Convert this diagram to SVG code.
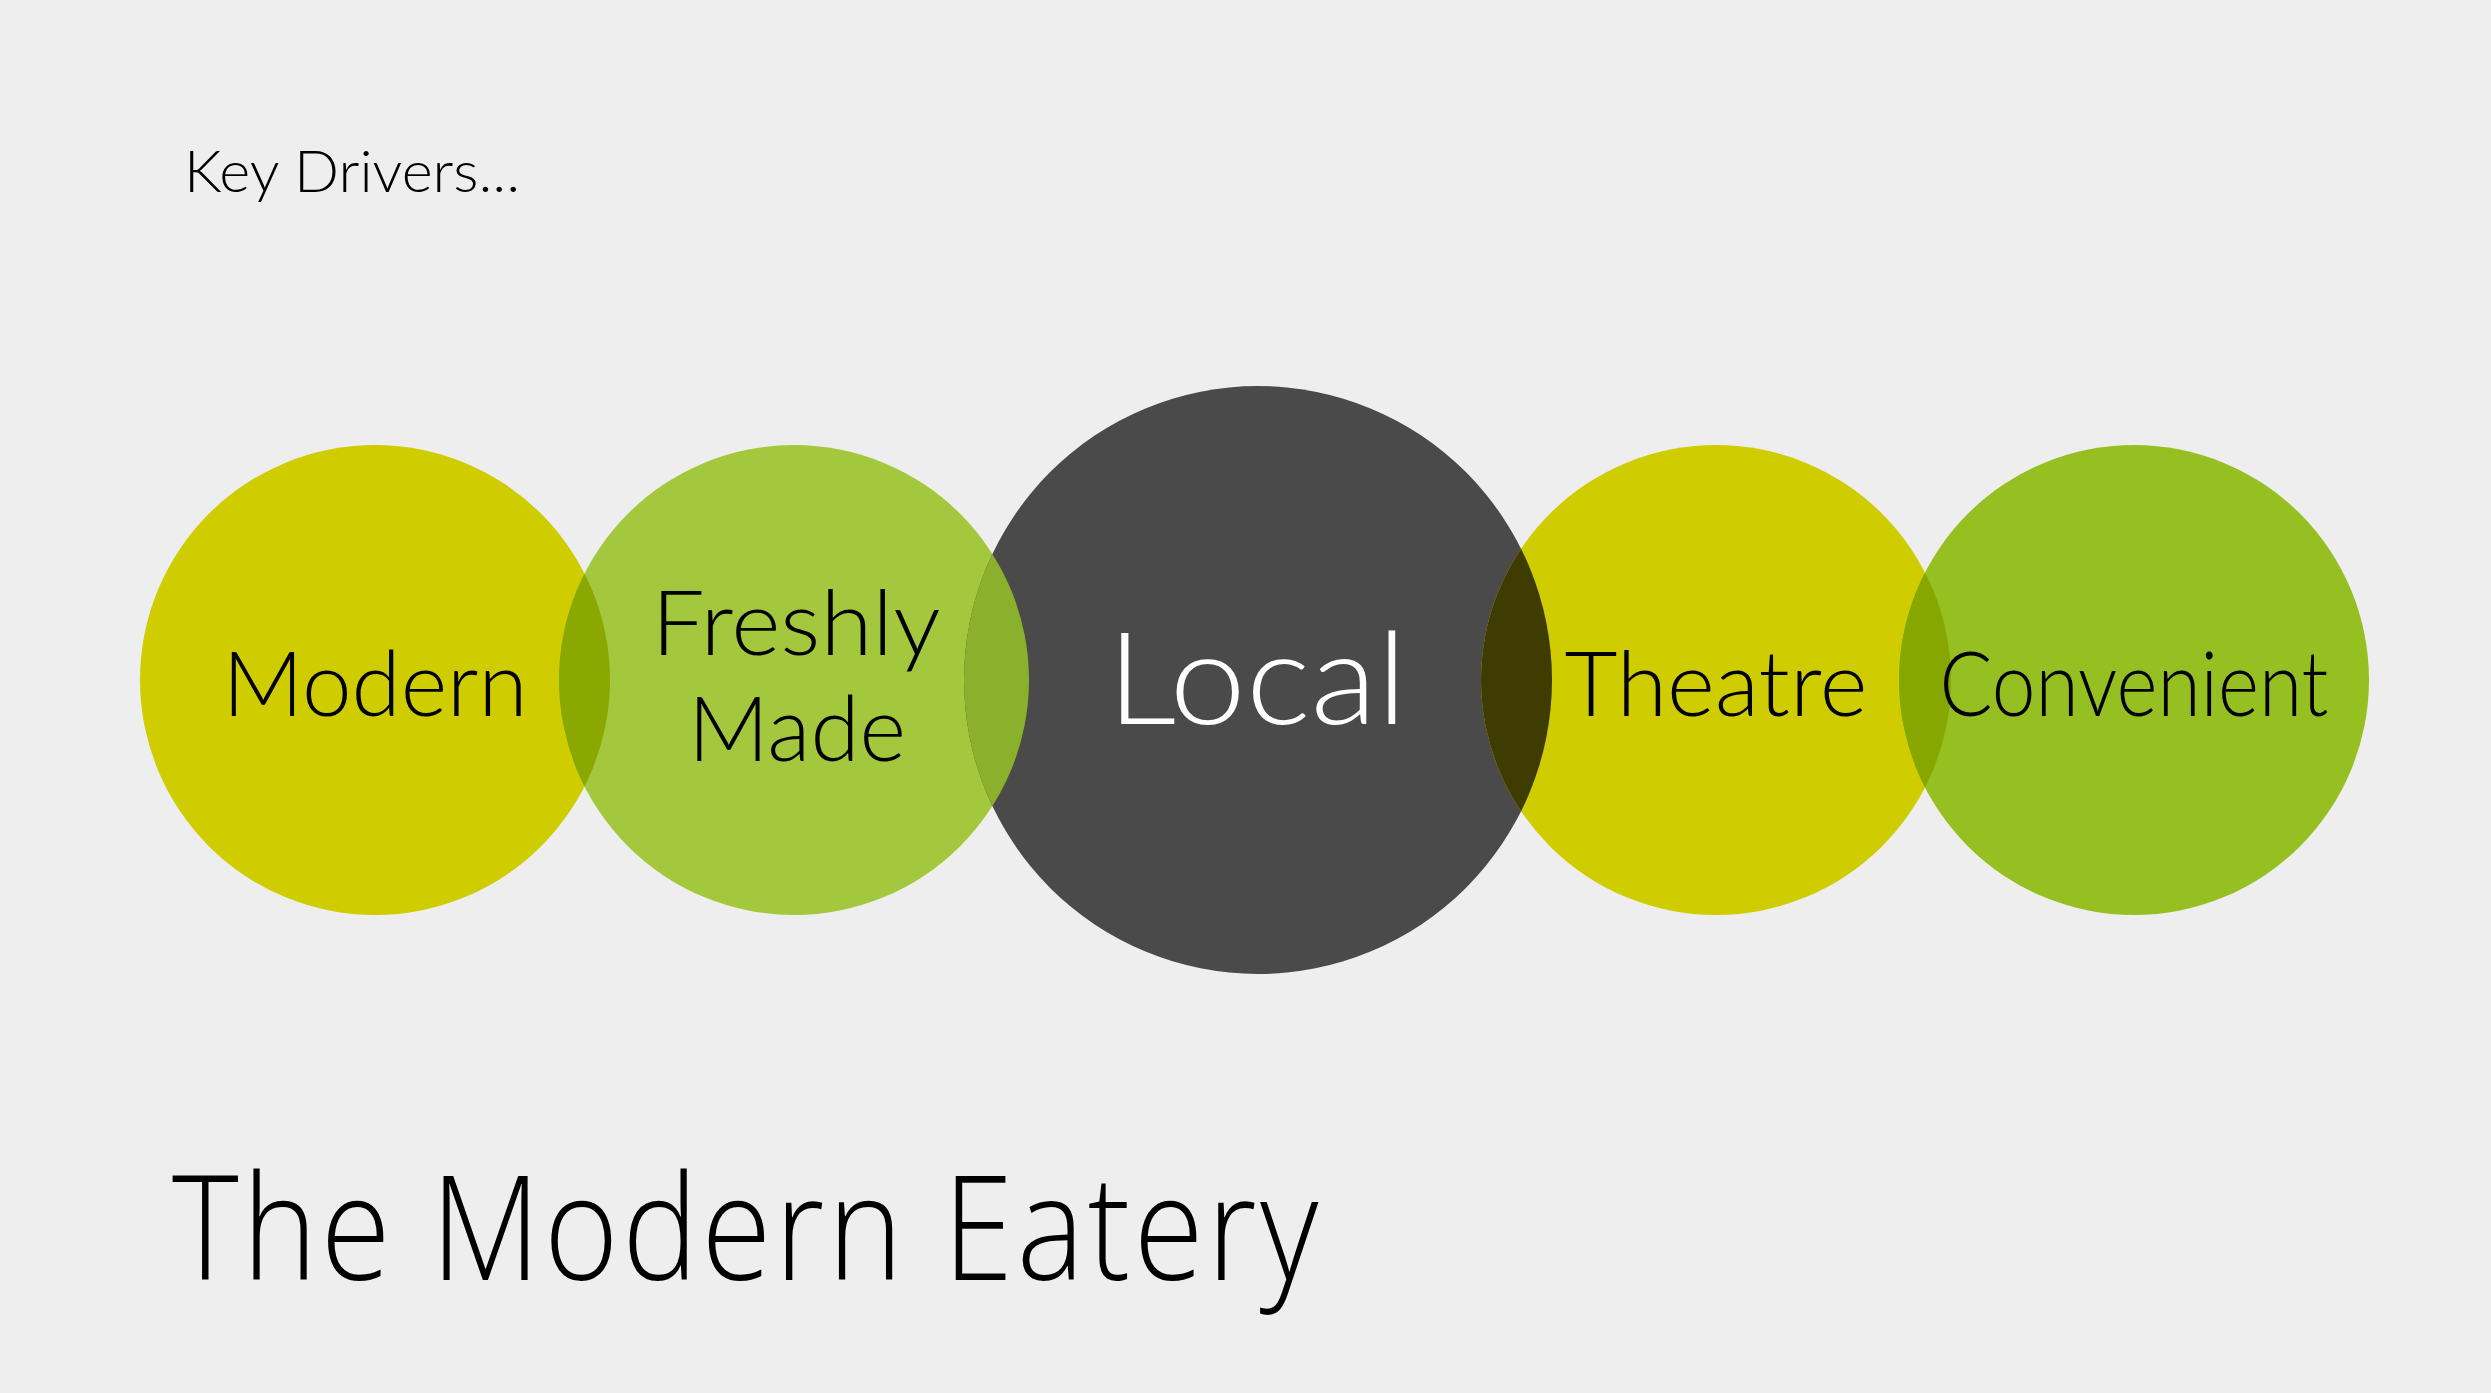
<svg xmlns="http://www.w3.org/2000/svg" width="2491" height="1393" viewBox="0 0 2491 1393">
  <style>
    .lbl { font-family: Lato, "Open Sans", "Liberation Sans", sans-serif; font-weight: 300; text-anchor: middle; fill: #000000; }
    .title { font-family: "Open Sans", "Liberation Sans", sans-serif; font-weight: 300; fill: #000000; }
  </style>
  <defs>
    <clipPath id="clipM"><circle cx="375" cy="680" r="235"/></clipPath>
    <clipPath id="clipL"><circle cx="1258" cy="680" r="294"/></clipPath>
    <clipPath id="clipT"><circle cx="1716" cy="680" r="235"/></clipPath>
  </defs>
  <rect x="0" y="0" width="2491" height="1393" fill="#EEEEEE"/>
  <text class="lbl" x="184" y="192" font-size="58" style="text-anchor:start" textLength="336" lengthAdjust="spacingAndGlyphs">Key Drivers...</text>

  <g id="node-modern">
    <circle cx="375" cy="680" r="235" fill="#CFCC00"/>
  </g>
  <g id="node-freshly-made">
    <circle cx="794" cy="680" r="235" fill="#A3C83D"/>
  </g>
  <g id="node-local">
    <circle cx="1258" cy="680" r="294" fill="#4A4A4A"/>
  </g>
  <g id="node-theatre">
    <circle cx="1716" cy="680" r="235" fill="#CFCC00"/>
  </g>
  <g id="node-convenient">
    <circle cx="2134" cy="680" r="235" fill="#96C021"/>
  </g>

  <g id="overlaps">
    <circle cx="794" cy="680" r="235" fill="#8AA800" clip-path="url(#clipM)"/>
    <circle cx="794" cy="680" r="235" fill="#8AB02C" clip-path="url(#clipL)"/>
    <circle cx="1716" cy="680" r="235" fill="#3E3C00" clip-path="url(#clipL)"/>
    <circle cx="2134" cy="680" r="235" fill="#86A600" clip-path="url(#clipT)"/>
  </g>

  <g id="labels">
    <text class="lbl" x="375" y="716" font-size="91" textLength="305" lengthAdjust="spacingAndGlyphs">Modern</text>
    <text class="lbl" x="796" y="655" font-size="91" textLength="289" lengthAdjust="spacingAndGlyphs">Freshly</text>
    <text class="lbl" x="797" y="761" font-size="91" textLength="218" lengthAdjust="spacingAndGlyphs">Made</text>
    <text class="lbl" x="1257" y="724" font-size="128" style="fill:#FFFFFF" textLength="300" lengthAdjust="spacingAndGlyphs">Local</text>
    <text class="lbl" x="1716" y="716" font-size="91" textLength="303" lengthAdjust="spacingAndGlyphs">Theatre</text>
    <text class="lbl" x="2134" y="716" font-size="91" textLength="389" lengthAdjust="spacingAndGlyphs">Convenient</text>
  </g>

  <text class="title" x="172" y="1280" font-size="145" letter-spacing="4" textLength="1150" lengthAdjust="spacingAndGlyphs">The Modern Eatery</text>
</svg>
